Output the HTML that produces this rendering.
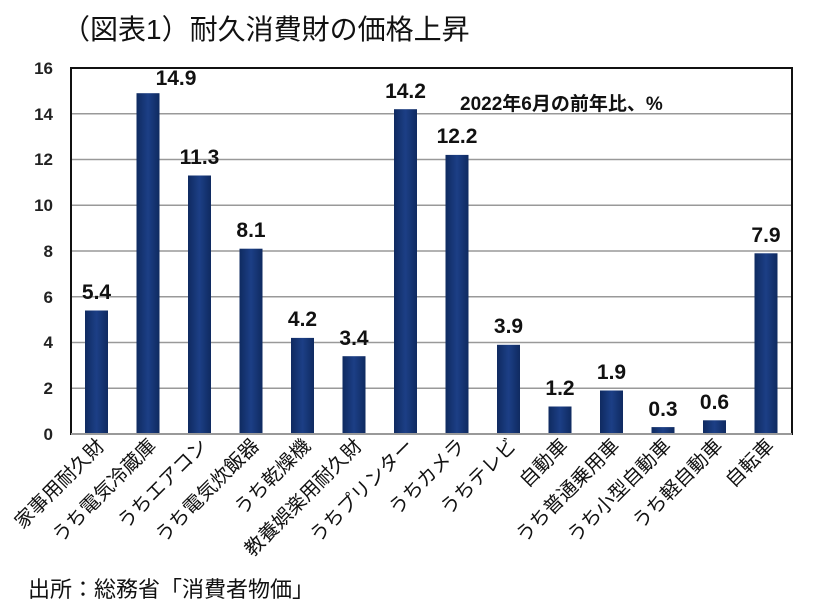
<!DOCTYPE html>
<html><head><meta charset="utf-8"><style>
body{margin:0;background:#fff;}
text{font-family:"Liberation Sans","Noto Sans CJK JP",sans-serif;}
</style></head><body>
<svg width="813" height="609" xmlns="http://www.w3.org/2000/svg">
<defs><linearGradient id="g" x1="0" x2="1" y1="0" y2="0">
<stop offset="0" stop-color="#0f2a60"/><stop offset="0.5" stop-color="#1c3f86"/><stop offset="1" stop-color="#0f2a60"/></linearGradient></defs>
<text x="62" y="39" font-size="28" fill="#111">（図表1）耐久消費財の価格上昇</text>
<g stroke="#999" stroke-width="1.5">
<line x1="71" x2="792" y1="388.25" y2="388.25"/><line x1="71" x2="792" y1="342.5" y2="342.5"/>
<line x1="71" x2="792" y1="296.75" y2="296.75"/><line x1="71" x2="792" y1="251" y2="251"/>
<line x1="71" x2="792" y1="205.25" y2="205.25"/><line x1="71" x2="792" y1="159.5" y2="159.5"/>
<line x1="71" x2="792" y1="113.75" y2="113.75"/>
</g>
<g font-size="17" fill="#222" font-weight="bold" text-anchor="end">
<text x="53" y="440">0</text><text x="53" y="394">2</text><text x="53" y="348">4</text>
<text x="53" y="303">6</text><text x="53" y="257">8</text><text x="53" y="211">10</text>
<text x="53" y="165">12</text><text x="53" y="120">14</text><text x="53" y="74">16</text>
</g>
<text x="460" y="110" font-size="19" font-weight="bold" fill="#111">2022年6月の前年比、%</text>
<g fill="url(#g)">
<rect x="85" y="310.5" width="23" height="123.5"/>
<rect x="136.5" y="93.2" width="23" height="340.8"/>
<rect x="188" y="175.5" width="23" height="258.5"/>
<rect x="239.5" y="248.7" width="23" height="185.3"/>
<rect x="291" y="337.9" width="23" height="96.1"/>
<rect x="342.5" y="356.2" width="23" height="77.8"/>
<rect x="394" y="109.2" width="23" height="324.8"/>
<rect x="445.5" y="154.9" width="23" height="279.1"/>
<rect x="497" y="344.8" width="23" height="89.2"/>
<rect x="548.5" y="406.5" width="23" height="27.5"/>
<rect x="600" y="390.5" width="23" height="43.5"/>
<rect x="651.5" y="427.1" width="23" height="6.9"/>
<rect x="703" y="420.3" width="23" height="13.7"/>
<rect x="754.5" y="253.3" width="23" height="180.7"/>
</g>
<g font-size="21" font-weight="bold" fill="#111" text-anchor="middle">
<text x="96.5" y="299">5.4</text>
<text x="176" y="85">14.9</text>
<text x="199.5" y="164">11.3</text>
<text x="251" y="237">8.1</text>
<text x="302.5" y="326">4.2</text>
<text x="354" y="345">3.4</text>
<text x="405.5" y="98">14.2</text>
<text x="457" y="143">12.2</text>
<text x="508.5" y="333">3.9</text>
<text x="560" y="395">1.2</text>
<text x="611.5" y="379">1.9</text>
<text x="663" y="416">0.3</text>
<text x="714.5" y="409">0.6</text>
<text x="766" y="242">7.9</text>
</g>
<g font-size="19.5" fill="#111" text-anchor="end">
<text transform="translate(105.5,447) rotate(-45)">家事用耐久財</text>
<text transform="translate(157,447) rotate(-45)">うち電気冷蔵庫</text>
<text transform="translate(208.5,447) rotate(-45)">うちエアコン</text>
<text transform="translate(260,447) rotate(-45)">うち電気炊飯器</text>
<text transform="translate(311.5,447) rotate(-45)">うち乾燥機</text>
<text transform="translate(363,447) rotate(-45)">教養娯楽用耐久財</text>
<text transform="translate(414.5,447) rotate(-45)">うちプリンター</text>
<text transform="translate(466,447) rotate(-45)">うちカメラ</text>
<text transform="translate(517.5,447) rotate(-45)">うちテレビ</text>
<text transform="translate(569,447) rotate(-45)">自動車</text>
<text transform="translate(620.5,447) rotate(-45)">うち普通乗用車</text>
<text transform="translate(672,447) rotate(-45)">うち小型自動車</text>
<text transform="translate(723.5,447) rotate(-45)">うち軽自動車</text>
<text transform="translate(775,447) rotate(-45)">自転車</text>
</g>
<rect x="71" y="68" width="721" height="366" fill="none" stroke="#111" stroke-width="2"/>
<line x1="71" x2="792" y1="434" y2="434" stroke="#999" stroke-width="2"/>
<text x="28" y="597" font-size="22" fill="#111">出所：総務省「消費者物価」</text>
</svg>
</body></html>
